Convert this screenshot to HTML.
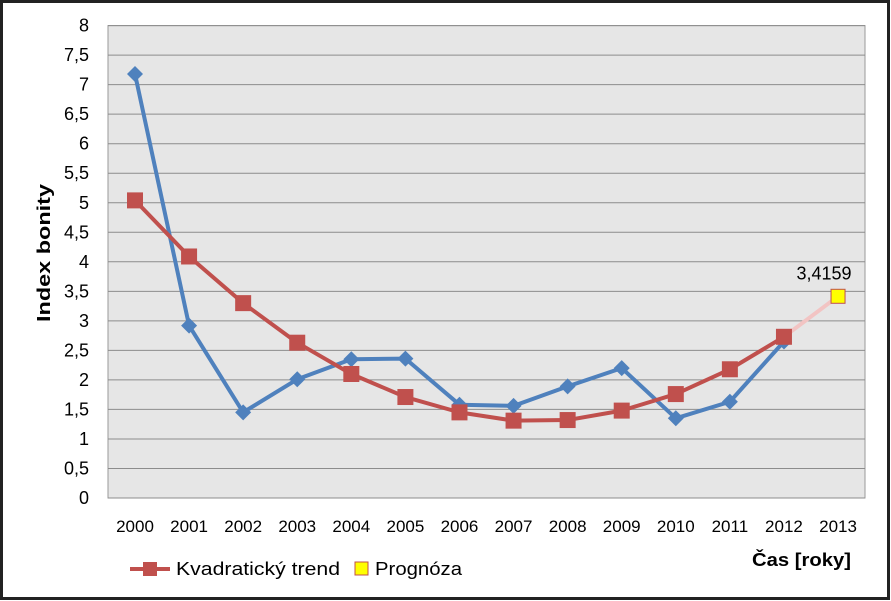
<!DOCTYPE html>
<html><head><meta charset="utf-8"><style>
body{margin:0;background:#fff}
svg{display:block;font-family:"Liberation Sans",Calibri,sans-serif}
</style></head><body>
<svg id="chart" width="891" height="601" viewBox="0 0 891 601">
<rect x="1.5" y="1.5" width="887" height="597" fill="#fff" stroke="#222" stroke-width="3"/>
<rect x="108" y="25.6" width="757" height="472.4" fill="#e6e6e6" stroke="#999" stroke-width="1"/>
<g id="grid"></g><g id="yt"></g><g id="xt"></g><g id="series"></g>
<text transform="translate(50,253) rotate(-90)" text-anchor="middle" font-size="18" font-weight="bold" textLength="138" lengthAdjust="spacingAndGlyphs">Index bonity</text>
<text x="752" y="566" font-size="18" font-weight="bold" textLength="99" lengthAdjust="spacingAndGlyphs">Čas [roky]</text>
<g>
<g>
<line x1="130" y1="569" x2="170" y2="569" stroke="#c0504d" stroke-width="4"/>
<rect x="143" y="562" width="14" height="14" fill="#c0504d"/>
<text x="176" y="575" font-size="18" textLength="164" lengthAdjust="spacingAndGlyphs">Kvadratický trend</text></g>
<g>
<rect x="355" y="562" width="13" height="13" fill="#ffff00" stroke="#c0504d"/>
<text x="375" y="575" font-size="18" textLength="87" lengthAdjust="spacingAndGlyphs">Prognóza</text></g>
</g>
</svg>
<script>
const years=["2000","2001","2002","2003","2004","2005","2006","2007","2008","2009","2010","2011","2012","2013"];
const actual=[7.18,2.92,1.45,2.01,2.35,2.36,1.58,1.56,1.89,2.20,1.35,1.63,2.65];
const trend=[5.04,4.09,3.30,2.63,2.10,1.71,1.45,1.31,1.32,1.48,1.76,2.18,2.73];
const forecast=3.4159;
const forecastLabel="3,4159";
const yTicks=[0,0.5,1,1.5,2,2.5,3,3.5,4,4.5,5,5.5,6,6.5,7,7.5,8];
const NS="http://www.w3.org/2000/svg";
const X=i=>135+i*54.08, Y=v=>498-v*59.05;
function mk(t,a,p){const e=document.createElementNS(NS,t);for(const k in a)e.setAttribute(k,a[k]);document.getElementById(p).appendChild(e);return e;}
yTicks.forEach(v=>{
 const l=mk('line',{x1:108,x2:865,y1:Y(v),y2:Y(v),stroke:'#8c8c8c','stroke-width':1},'grid');
 
 
 const t=mk('text',{x:89,y:Y(v)+6,'text-anchor':'end','font-size':18},'yt');
 t.textContent=String(v).replace('.',',');
 
 
});
years.forEach((y,i)=>{
 const t=mk('text',{x:X(i),y:532,'text-anchor':'middle','font-size':17},'xt');
 t.textContent=y;
 
 
});
const fl=mk('line',{x1:X(12),y1:Y(trend[12]),x2:X(13),y2:Y(forecast),stroke:'#f2c4c3','stroke-width':4},'series');


const bl=mk('polyline',{points:actual.map((v,i)=>X(i)+','+Y(v)).join(' '),fill:'none',stroke:'#4f81bd','stroke-width':4,'stroke-linejoin':'round'},'series');


actual.forEach((v,i)=>{
 const d=mk('polygon',{points:`${X(i)},${Y(v)-8} ${X(i)+8},${Y(v)} ${X(i)},${Y(v)+8} ${X(i)-8},${Y(v)}`,fill:'#4f81bd'},'series');
 
 
});
const rl=mk('polyline',{points:trend.map((v,i)=>X(i)+','+Y(v)).join(' '),fill:'none',stroke:'#c0504d','stroke-width':4,'stroke-linejoin':'round'},'series');


trend.forEach((v,i)=>{
 const r=mk('rect',{x:X(i)-8,y:Y(v)-8,width:16,height:16,fill:'#c0504d'},'series');
 
 
});
const fp=mk('rect',{x:X(13)-7,y:Y(forecast)-7,width:14,height:14,fill:'#ffff00',stroke:'#c0504d'},'series');


const ft=mk('text',{x:X(13)-14,y:Y(forecast)-17,'text-anchor':'middle','font-size':18},'series');
ft.textContent=forecastLabel;


</script>
</body></html>
